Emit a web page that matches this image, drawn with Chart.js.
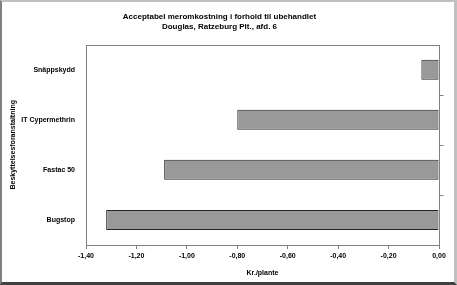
<!DOCTYPE html>
<html>
<head>
<meta charset="utf-8">
<script src="https://cdn.jsdelivr.net/npm/chart.js@4.4.1/dist/chart.umd.min.js"></script>
<style>
  html, body { margin: 0; padding: 0; background: #fff; }
  #frame {
    position: relative;
    width: 457px; height: 285px;
    box-sizing: border-box;
    border-top: 2px solid #c0c0c0;
    border-left: 2px solid #808080;
    border-right: 3px solid #c0c0c0;
    border-bottom: 3px solid #404040;
    overflow: hidden;
  }
  #chart { position: absolute; left: -2px; top: -2px; }
</style>
</head>
<body>
<div id="frame"><canvas id="chart" width="457" height="285"></canvas></div>
<script>
// data
var categories = ['Snäppskydd', 'IT Cypermethrin', 'Fastac 50', 'Bugstop'];
var values = [-0.07, -0.80, -1.09, -1.32];
var chartTitle = ['Acceptabel meromkostning i forhold til ubehandlet', 'Douglas, Ratzeburg Plt., afd. 6'];
var xTitle = 'Kr./plante';
var yTitle = 'Beskyttelsesforanstaltning';

var fontFamily = 'Arial, "Liberation Sans", sans-serif';

// plot box and tick marks on the zero line
var plotFrame = {
    id: 'plotFrame',
    afterDatasetsDraw: function(chart) {
        var a = chart.chartArea;
        var ctx = chart.ctx;
        ctx.save();
        ctx.strokeStyle = '#808080';
        ctx.lineWidth = 1;
        ctx.strokeRect(Math.round(a.left) + 0.5, Math.round(a.top) + 0.5,
            Math.round(a.right - a.left), Math.round(a.bottom - a.top));
        // category separators as small ticks right of the 0 line
        var y = chart.scales.y;
        var x0 = Math.round(chart.scales.x.getPixelForValue(0)) + 0.5;
        for (var i = 1; i < categories.length; i++) {
            var yy = Math.round((y.getPixelForTick(i - 1) + y.getPixelForTick(i)) / 2) + 0.5;
            ctx.beginPath();
            ctx.moveTo(x0, yy);
            ctx.lineTo(x0 + 4, yy);
            ctx.stroke();
        }
        ctx.restore();
    }
};

var ctx = document.getElementById('chart').getContext('2d');
var myChart = new Chart(ctx, {
    type: 'bar',
    data: {
        labels: categories,
        datasets: [{
            data: values,
            backgroundColor: '#999999',
            borderColor: '#222222',
            borderWidth: 1,
            borderSkipped: false,
            barPercentage: 0.4,
            categoryPercentage: 1.0
        }]
    },
    options: {
        indexAxis: 'y',
        responsive: false,
        animation: false,
        layout: { padding: { left: 0, right: 18, top: 0, bottom: 0 } },
        plugins: {
            legend: { display: false },
            tooltip: { enabled: false },
            title: {
                display: true,
                text: chartTitle,
                color: '#000',
                font: { family: fontFamily, size: 8, weight: 'bold', lineHeight: 1.35 },
                padding: { top: 11, bottom: 12 }
            }
        },
        scales: {
            x: {
                min: -1.4,
                max: 0,
                afterFit: function(scale) { scale.height = 40; },
                ticks: {
                    stepSize: 0.2,
                    color: '#000',
                    font: { family: fontFamily, size: 7, weight: 'bold' },
                    padding: 3,
                    maxRotation: 0,
                    callback: function(v) { return Number(v).toFixed(2).replace('.', ','); }
                },
                grid: { drawOnChartArea: false, drawTicks: true, tickLength: 4, color: '#808080' },
                border: { display: false },
                title: {
                    display: true,
                    text: xTitle,
                    color: '#000',
                    font: { family: fontFamily, size: 7, weight: 'bold' },
                    padding: { top: 0, bottom: 8 }
                }
            },
            y: {
                afterFit: function(scale) { scale.width = 86; },
                ticks: {
                    color: '#000',
                    font: { family: fontFamily, size: 7, weight: 'bold' },
                    padding: 11
                },
                grid: { display: false, drawTicks: false },
                border: { display: false },
                title: {
                    display: true,
                    text: yTitle,
                    color: '#000',
                    font: { family: fontFamily, size: 7, weight: 'bold' },
                    padding: { top: 9, bottom: 0 }
                }
            }
        }
    },
    plugins: [plotFrame]
});
</script>
</body>
</html>
